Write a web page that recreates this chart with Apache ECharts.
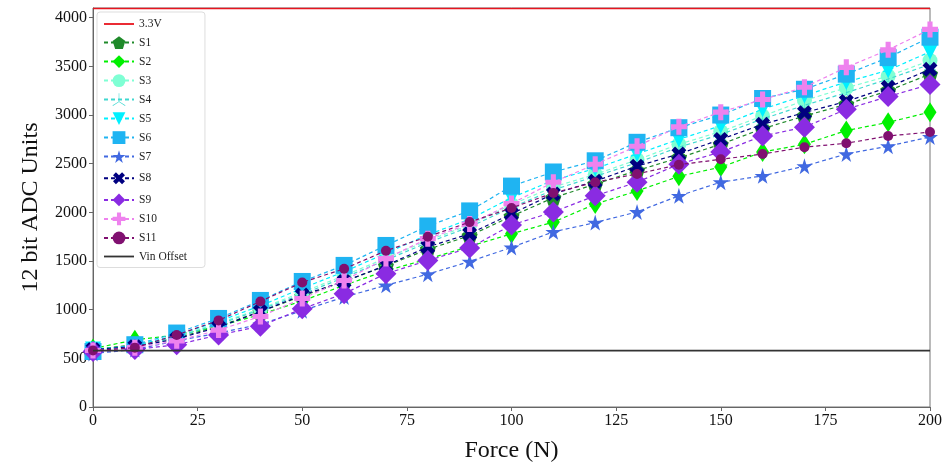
<!DOCTYPE html>
<html><head><meta charset="utf-8">
<script src="https://cdn.jsdelivr.net/npm/echarts@6/dist/echarts.min.js"></script>
<style>html,body{margin:0;padding:0;background:#fff}#c{width:948px;height:468px}</style>
</head><body><div id="c"></div>
<script>
const force = [0,10,20,30,40,50,60,70,80,90,100,110,120,130,140,150,160,170,180,190,200];
const S1  = [590,640,710,830,980,1140,1290,1450,1620,1760,1960,2150,2290,2430,2560,2700,2860,2990,3110,3250,3420];
const S2  = [600,690,740,830,950,1090,1250,1400,1520,1650,1780,1900,2085,2220,2370,2465,2620,2700,2840,2925,3030];
const S3  = [580,630,730,860,1010,1180,1350,1530,1710,1870,2080,2260,2390,2540,2700,2830,2990,3150,3280,3400,3560];
const S4  = [580,620,720,850,1000,1160,1330,1510,1690,1850,2050,2230,2370,2510,2670,2800,2960,3100,3230,3370,3520];
const S5  = [590,630,740,880,1040,1220,1390,1580,1770,1930,2150,2330,2450,2600,2750,2890,3060,3200,3340,3460,3650];
const S6  = [570,640,760,910,1095,1290,1455,1660,1860,2015,2270,2415,2530,2720,2870,3000,3170,3265,3420,3590,3800];
const S7  = [550,590,680,760,850,990,1130,1250,1365,1495,1640,1800,1895,2005,2170,2310,2375,2475,2600,2680,2775];
const S8  = [590,620,700,820,980,1150,1290,1455,1645,1780,1985,2190,2320,2475,2600,2750,2905,3025,3140,3285,3470];
const S9  = [570,590,640,740,830,1010,1165,1370,1505,1635,1870,2005,2170,2310,2495,2620,2785,2875,3060,3190,3315];
const S10 = [580,610,680,790,930,1115,1300,1525,1730,1880,2090,2310,2495,2680,2880,3030,3160,3285,3490,3670,3880];
const S11 = [580,610,740,890,1085,1280,1420,1605,1750,1900,2045,2200,2310,2395,2490,2545,2600,2670,2710,2785,2825];
const supplyLevel = 4095;
const vinOffset = 580;
const xTicks = [0,25,50,75,100,125,150,175,200];
const yTicks = [0,500,1000,1500,2000,2500,3000,3500,4000];

const names = ['S1','S2','S3','S4','S5','S6','S7','S8','S9','S10','S11'];
const values = [S1,S2,S3,S4,S5,S6,S7,S8,S9,S10,S11];
const colors = ['#1f8a2a','#00f000','#7fffd4','#40d8d0','#00f0ff','#1fb4f2','#4169e1','#000080','#8a2be2','#ee82ee','#801070'];
const STAR = 'path://M50,0 L61,35 L98,35 L68,57 L79,91 L50,70 L21,91 L32,57 L2,35 L39,35 Z';
const PENT = 'path://M50,0 L98,35 L79,91 L21,91 L2,35 Z';
const PLUS = 'path://M34,0 H66 V34 H100 V66 H66 V100 H34 V66 H0 V34 H34 Z';
const TRI = 'path://M48,50 L48,0 L52,0 L52,50 L95,74 L93,78 L50,54 L7,78 L5,74 Z';
const LINEICON = 'path://M0,0 H100 V6 H0 Z';
const symbols = [
  {symbol: PENT, size: 16},
  {symbol: 'diamond', size: [13,20]},
  {symbol: 'circle', size: 15},
  {symbol: TRI, size: 12},
  {symbol: 'triangle', size: 16, rotate: 180},
  {symbol: 'rect', size: 17},
  {symbol: STAR, size: 16},
  {symbol: PLUS, size: 16, rotate: 45},
  {symbol: 'diamond', size: 21},
  {symbol: PLUS, size: 16},
  {symbol: 'circle', size: 10}
];

const series = [];
series.push({name:'3.3V', type:'line', data:[[0,supplyLevel],[200,supplyLevel]], symbol:'none',
  lineStyle:{color:'#e8141e', width:1.5}, itemStyle:{color:'#e8141e'}, z:1});
names.forEach((n,i)=>{
  series.push({name:n, type:'line', data: force.map((f,j)=>[f, values[i][j]]),
    symbol: symbols[i].symbol, symbolSize: symbols[i].size, symbolRotate: symbols[i].rotate||0,
    showAllSymbol:true,
    lineStyle:{color:colors[i], width:1.2, type:[4,3]},
    itemStyle:{color:colors[i], opacity:1},
    z: 2+i});
});
series.push({name:'Vin Offset', type:'line', data:[[0,vinOffset],[200,vinOffset]], symbol:'none',
  lineStyle:{color:'#333', width:1.8}, itemStyle:{color:'#333'}, z:20});

const serif = 'Liberation Serif';
const chart = echarts.init(document.getElementById('c'));
chart.setOption({
  animation:false,
  backgroundColor:'#fff',
  grid:{left:93, right:18, top:8, bottom:59, show:true, borderColor:'#777', borderWidth:1},
  legend:{orient:'vertical', left:97, top:12, itemWidth:30, itemHeight:16, itemGap:6.2,
    padding:[6,18,5,6], backgroundColor:'#fff', borderColor:'#ddd', borderWidth:1, borderRadius:3,
    textStyle:{fontFamily:serif, fontSize:11.5, color:'#222'},
    data: [{name:'3.3V', icon:LINEICON}].concat(names).concat([{name:'Vin Offset', icon:LINEICON}])},
  xAxis:{type:'value', min:0, max:200, interval:25, name:'Force (N)', nameLocation:'middle', nameGap:32,
    nameTextStyle:{fontFamily:serif, fontSize:24, color:'#111'},
    axisLine:{show:true, lineStyle:{color:'#666'}}, axisTick:{show:true, length:4, lineStyle:{color:'#666'}},
    axisLabel:{fontFamily:serif, fontSize:16, color:'#111', margin:6}, splitLine:{show:false}},
  yAxis:{type:'value', min:0, max:4100, interval:500, name:'12 bit ADC Units', nameLocation:'middle', nameGap:50,
    nameTextStyle:{fontFamily:serif, fontSize:24, color:'#111'},
    axisLine:{show:true, lineStyle:{color:'#666'}}, axisTick:{show:true, length:4, lineStyle:{color:'#666'}},
    axisLabel:{fontFamily:serif, fontSize:16, color:'#111', margin:6, showMaxLabel:false,
      formatter: v => yTicks.includes(v) ? String(v) : ''}, splitLine:{show:false}},
  series: series
});
</script></body></html>
